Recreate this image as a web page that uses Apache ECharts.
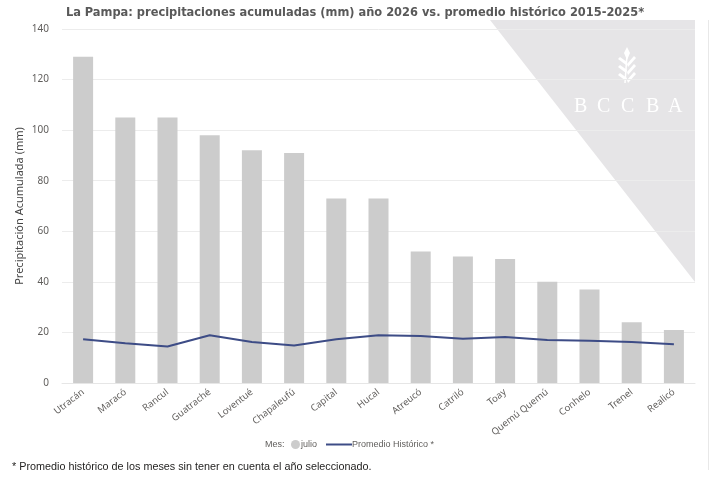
<!DOCTYPE html>
<html>
<head>
<meta charset="utf-8">
<script src="https://cdn.jsdelivr.net/npm/echarts@6/dist/echarts.min.js"></script>
<style>
  html, body { margin: 0; padding: 0; background: #fff; }
  #chart { width: 710px; height: 480px; }
</style>
</head>
<body>
<div id="chart"></div>
<script>
// departamentos de La Pampa
var departamentos = ['Utracán', 'Maracó', 'Rancul', 'Guatraché', 'Loventué', 'Chapaleufú', 'Capital',
  'Hucal', 'Atreucó', 'Catriló', 'Toay', 'Quemú Quemú', 'Conhelo', 'Trenel', 'Realicó'];
// julio 2026 (mm)
var julio = [129, 105, 105, 98, 92, 91, 73, 73, 52, 50, 49, 40, 37, 24, 21];
// promedio historico 2015-2025
var promedio = [17.3, 15.7, 14.4, 18.9, 16.2, 14.8, 17.3, 18.9, 18.6, 17.5, 18.2, 17.0, 16.7, 16.2, 15.3];

var fuente = '"Noto Sans", "Open Sans", sans-serif';
var gris = '#605e5c';
var leyendaTxt = { fontFamily: '"Liberation Sans", sans-serif', fontSize: 9, color: gris };

var chart = echarts.init(document.getElementById('chart'));
chart.setOption({
  animation: false,
  title: {
    text: 'La Pampa: precipitaciones acumuladas (mm) año 2026 vs. promedio histórico 2015-2025*',
    left: 'center',
    top: 1,
    textStyle: { fontFamily: '"DejaVu Sans Condensed", sans-serif', fontSize: 12.7, fontWeight: 'bold', color: '#595959' }
  },
  grid: { left: 62, right: 15, top: 29, bottom: 97 },
  legend: [
    {
      left: 291, top: 440, padding: 0,
      itemWidth: 9, itemHeight: 9,
      textStyle: Object.assign({ padding: [0, 0, 0, -4] }, leyendaTxt),
      data: [{ name: 'julio', icon: 'circle' }]
    },
    {
      left: 326, top: 440, padding: 0,
      itemWidth: 26, itemHeight: 2,
      textStyle: Object.assign({ padding: [0, 0, 0, -5] }, leyendaTxt),
      data: [{ name: 'Promedio Histórico *', icon: 'rect' }]
    }
  ],
  xAxis: {
    type: 'category',
    data: departamentos,
    axisTick: { show: false },
    axisLine: { lineStyle: { color: '#e6e6e6' } },
    axisLabel: { rotate: 38, interval: 0, fontFamily: fuente, fontSize: 9.5, color: gris, margin: 8 }
  },
  yAxis: {
    type: 'value',
    min: 0,
    max: 140,
    interval: 20,
    name: 'Precipitación Acumulada (mm)',
    nameLocation: 'middle',
    nameMoveOverlap: false,
    nameGap: 37,
    nameTextStyle: { fontFamily: fuente, fontSize: 11, color: '#444' },
    axisLabel: { fontFamily: fuente, fontSize: 10, color: gris, margin: 13 },
    splitLine: { lineStyle: { color: '#ececec' } }
  },
  series: [
    {
      name: 'julio',
      type: 'bar',
      data: julio,
      barWidth: 20,
      itemStyle: { color: '#cccccc' }
    },
    {
      name: 'Promedio Histórico *',
      type: 'line',
      data: promedio,
      symbol: 'none',
      lineStyle: { color: '#3d4c86', width: 2 },
      itemStyle: { color: '#3d4c86' }
    }
  ],
  graphic: [
    // marca de agua
    {
      type: 'polygon', z: -10, silent: true,
      shape: { points: [[490, 20], [695, 20], [695, 282]] },
      style: { fill: '#e6e5e7' }
    },
    {
      type: 'group', z: -9, left: 618, top: 47, silent: true,
      children: [
        { type: 'line', shape: { x1: 10, y1: 8, x2: 8, y2: 36 }, style: { stroke: '#fff', lineWidth: 1.5 } },
        { type: 'polygon', shape: { points: [[10, 0], [13, 6], [10, 13], [7, 6]] }, style: { fill: '#fff' } },
        { type: 'polygon', shape: { points: [[9, 18], [1, 12], [3, 10], [10, 15]] }, style: { fill: '#fff' } },
        { type: 'polygon', shape: { points: [[10, 17], [17, 9], [19, 11], [11, 20]] }, style: { fill: '#fff' } },
        { type: 'polygon', shape: { points: [[9, 26], [1, 20], [3, 18], [10, 23]] }, style: { fill: '#fff' } },
        { type: 'polygon', shape: { points: [[10, 25], [17, 17], [19, 19], [11, 28]] }, style: { fill: '#fff' } },
        { type: 'polygon', shape: { points: [[9, 34], [1, 28], [3, 26], [10, 31]] }, style: { fill: '#fff' } },
        { type: 'polygon', shape: { points: [[10, 33], [17, 25], [19, 27], [11, 36]] }, style: { fill: '#fff' } }
      ]
    },
    { type: 'text', z: -9, left: 574, top: 97, silent: true, style: { text: 'B', fill: '#fff', font: '20px "Liberation Serif", serif' } },
    { type: 'text', z: -9, left: 597, top: 97, silent: true, style: { text: 'C', fill: '#fff', font: '20px "Liberation Serif", serif' } },
    { type: 'text', z: -9, left: 621, top: 97, silent: true, style: { text: 'C', fill: '#fff', font: '20px "Liberation Serif", serif' } },
    { type: 'text', z: -9, left: 646, top: 97, silent: true, style: { text: 'B', fill: '#fff', font: '20px "Liberation Serif", serif' } },
    { type: 'text', z: -9, left: 668, top: 97, silent: true, style: { text: 'A', fill: '#fff', font: '20px "Liberation Serif", serif' } },
    // borde derecho
    { type: 'line', silent: true, shape: { x1: 708.5, y1: 20, x2: 708.5, y2: 470 }, style: { stroke: '#e8e8e8', lineWidth: 1 } },
    // leyenda y nota
    { type: 'text', left: 265, top: 440, style: { text: 'Mes:', fill: gris, font: '9px "Liberation Sans", sans-serif' } },
    { type: 'text', left: 12, top: 462, style: { text: '* Promedio histórico de los meses sin tener en cuenta el año seleccionado.', fill: '#252423', font: '10.8px "Liberation Sans", sans-serif' } }
  ]
});
</script>
</body>
</html>
